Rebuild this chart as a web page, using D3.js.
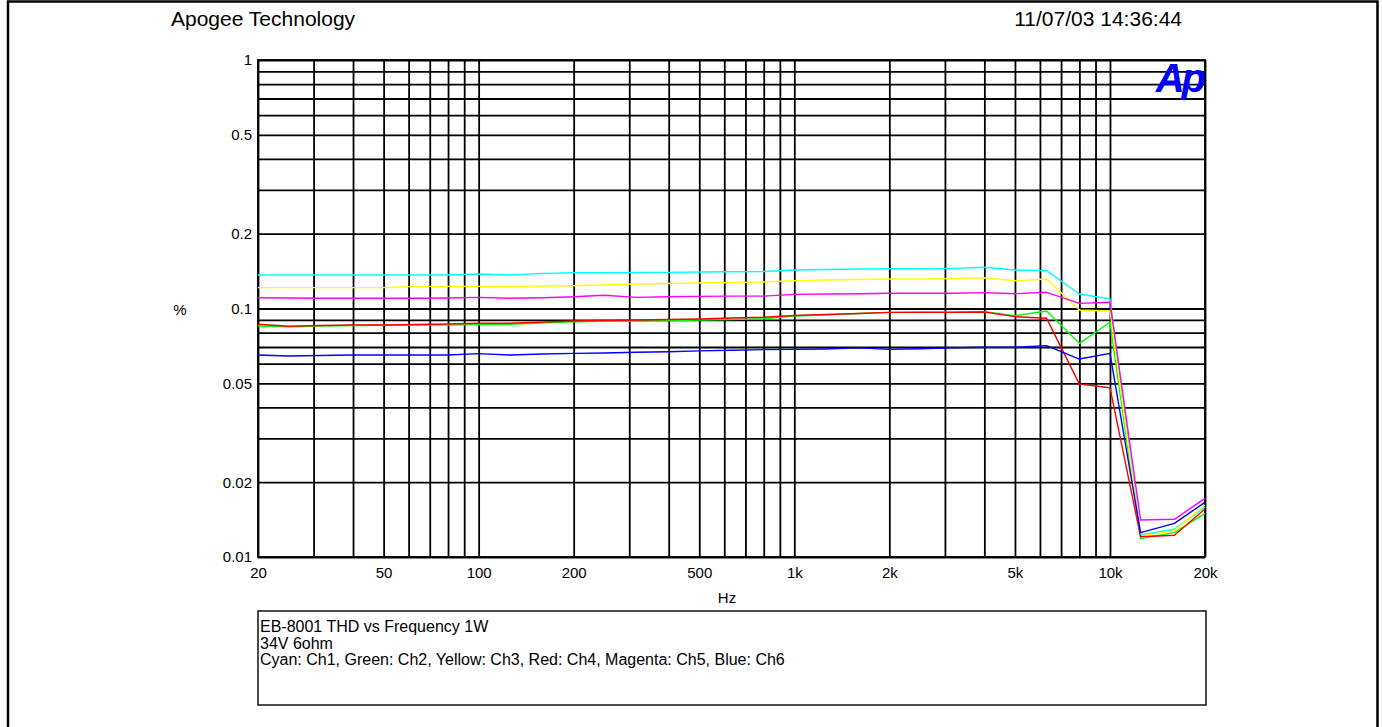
<!DOCTYPE html>
<html>
<head>
<meta charset="utf-8">
<script src="https://cdn.jsdelivr.net/npm/d3@7"></script>
<style>
  html, body { margin: 0; padding: 0; background: #fff; }
  svg { display: block; font-family: Arial, "Liberation Sans", sans-serif; }
</style>
</head>
<body>
<svg id="chart" width="1382" height="727"></svg>
<script>
// ---- data ----
const freqs = [20, 25, 31.5, 40, 50, 63, 80, 100, 125, 160, 200, 250, 315, 400, 500, 630, 800,
  1000, 1250, 1600, 2000, 2500, 3150, 4000, 5000, 6300, 8000, 10000, 12500, 16000, 20000];

const ch1Cyan = [0.1364, 0.1364, 0.1364, 0.1364, 0.1364, 0.1364, 0.1364, 0.1376, 0.1364, 0.1385, 0.1393,
  0.1393, 0.1396, 0.1398, 0.1402, 0.1406, 0.1409, 0.1429, 0.1435, 0.1442, 0.1446, 0.1446, 0.1451, 0.1465,
  0.1429, 0.1420, 0.1144, 0.1092, 0.01226, 0.01293, 0.01590];
const ch2Green = [0.0850, 0.0845, 0.0850, 0.0854, 0.0856, 0.0858, 0.0858, 0.0861, 0.0864, 0.0874, 0.0885,
  0.0888, 0.0891, 0.0893, 0.0899, 0.0903, 0.0910, 0.0933, 0.0942, 0.0955, 0.0965, 0.0968, 0.0968, 0.0971,
  0.0936, 0.0977, 0.0724, 0.0880, 0.01185, 0.01253, 0.01499];
const ch3Yellow = [0.1213, 0.1213, 0.1213, 0.1213, 0.1213, 0.1228, 0.1228, 0.1228, 0.1228, 0.1232, 0.1235,
  0.1243, 0.1255, 0.1260, 0.1266, 0.1272, 0.1278, 0.1294, 0.1302, 0.1308, 0.1314, 0.1314, 0.1320, 0.1330,
  0.1294, 0.1314, 0.0986, 0.0977, 0.01215, 0.01276, 0.01619];
const ch4Red = [0.0864, 0.0848, 0.0854, 0.0858, 0.0858, 0.0862, 0.0866, 0.0872, 0.0872, 0.0882, 0.0891,
  0.0895, 0.0899, 0.0903, 0.0907, 0.0916, 0.0922, 0.0937, 0.0946, 0.0955, 0.0965, 0.0965, 0.0965, 0.0968,
  0.0927, 0.0913, 0.0496, 0.0480, 0.01207, 0.01223, 0.01560];
const ch5Magenta = [0.1105, 0.1102, 0.1099, 0.1099, 0.1099, 0.1099, 0.1102, 0.1109, 0.1099, 0.1105, 0.1115,
  0.1130, 0.1109, 0.1115, 0.1119, 0.1122, 0.1122, 0.1140, 0.1144, 0.1147, 0.1151, 0.1151, 0.1151, 0.1158,
  0.1147, 0.1162, 0.1049, 0.1059, 0.01409, 0.01418, 0.01722];
const ch6Blue = [0.0650, 0.0644, 0.0647, 0.0650, 0.0650, 0.0650, 0.0650, 0.0658, 0.0650, 0.0656, 0.0660,
  0.0662, 0.0667, 0.0670, 0.0675, 0.0679, 0.0683, 0.0685, 0.0687, 0.0694, 0.0685, 0.0689, 0.0694, 0.0698,
  0.0698, 0.0709, 0.0626, 0.0660, 0.01253, 0.01366, 0.01660];

const seriesNames = ["Ch1", "Ch2", "Ch3", "Ch4", "Ch5", "Ch6"];
const seriesColors = ["#00ffff", "#00ff00", "#ffff00", "#ff0000", "#ff00ff", "#0000ff"];
const seriesValues = [ch1Cyan, ch2Green, ch3Yellow, ch4Red, ch5Magenta, ch6Blue];

const xTickValues = [20, 50, 100, 200, 500, 1000, 2000, 5000, 10000, 20000];
const xTickLabels = ["20", "50", "100", "200", "500", "1k", "2k", "5k", "10k", "20k"];
const yTickValues = [1, 0.5, 0.2, 0.1, 0.05, 0.02, 0.01];
const yTickLabels = ["1", "0.5", "0.2", "0.1", "0.05", "0.02", "0.01"];

const titleLeft = "Apogee Technology";
const titleRight = "11/07/03 14:36:44";
const xAxisTitle = "Hz";
const yAxisTitle = "%";
const legendLines = ["EB-8001 THD vs Frequency 1W", "34V 6ohm",
  "Cyan: Ch1, Green: Ch2, Yellow: Ch3, Red: Ch4, Magenta: Ch5, Blue: Ch6"];

// ---- layout ----
const svg = d3.select("#chart");
const L = 258, R = 1205, T = 60, B = 557;

const x = d3.scaleLog().domain([20, 20000]).range([L, R]);
const y = d3.scaleLog().domain([0.01, 1]).range([B, T]);

// outer frame (open at bottom)
svg.append("path")
  .attr("d", `M8,727 V1.5 H1377.5 V727`)
  .attr("fill", "none").attr("stroke", "#000").attr("stroke-width", 2.5);

// header texts
svg.append("text").attr("x", 171).attr("y", 26).attr("font-size", 21)
  .attr("fill", "#000").text(titleLeft);
svg.append("text").attr("x", 1182).attr("y", 26).attr("font-size", 21)
  .attr("text-anchor", "end").attr("fill", "#000").text(titleRight);

// grid values
const xGrid = [];
for (let d = 10; d <= 10000; d *= 10) for (let m = 1; m <= 9; m++) {
  const v = m * d; if (v >= 20 && v <= 20000) xGrid.push(v);
}
const yGrid = [];
for (let d = 0.01; d <= 0.1 + 1e-9; d *= 10) for (let m = 1; m <= 9; m++) yGrid.push(m * d);
yGrid.push(1);

const gridG = svg.append("g");
gridG.append("g").attr("transform", `translate(0,${B})`)
  .call(d3.axisBottom(x).tickValues(xGrid).tickSize(-(B - T)).tickFormat(""))
  .call(g => g.select(".domain").remove())
  .call(g => g.selectAll("line").attr("stroke", "#000").attr("stroke-width", 1.8));
gridG.append("g").attr("transform", `translate(${L},0)`)
  .call(d3.axisLeft(y).tickValues(yGrid).tickSize(-(R - L)).tickFormat(""))
  .call(g => g.select(".domain").remove())
  .call(g => g.selectAll("line").attr("stroke", "#000").attr("stroke-width", 1.8));

// plot border
svg.append("rect").attr("x", L).attr("y", T).attr("width", R - L).attr("height", B - T)
  .attr("fill", "none").attr("stroke", "#000").attr("stroke-width", 1.8);

// tick labels via axes
svg.append("g").attr("transform", `translate(0,${B})`)
  .call(d3.axisBottom(x).tickValues(xTickValues).tickSize(0).tickPadding(10)
    .tickFormat((d, i) => xTickLabels[i]))
  .call(g => g.select(".domain").remove())
  .call(g => g.selectAll("text").attr("font-size", 15).attr("fill", "#000")
    .attr("font-family", "Arial, 'Liberation Sans', sans-serif"));
svg.append("g").attr("transform", `translate(${L},0)`)
  .call(d3.axisLeft(y).tickValues(yTickValues).tickSize(0).tickPadding(6)
    .tickFormat((d, i) => yTickLabels[i]))
  .call(g => g.select(".domain").remove())
  .call(g => g.selectAll("text").attr("font-size", 15).attr("fill", "#000")
    .attr("font-family", "Arial, 'Liberation Sans', sans-serif"));

// axis titles
svg.append("text").attr("x", 727).attr("y", 603).attr("font-size", 15)
  .attr("text-anchor", "middle").text(xAxisTitle);
svg.append("text").attr("x", 180).attr("y", y(0.1) + 6).attr("font-size", 15)
  .attr("text-anchor", "middle").text(yAxisTitle);

// data lines
const line = d3.line().x((d, i) => x(freqs[i])).y(d => y(d));
seriesValues.forEach((vals, k) => {
  svg.append("path").datum(vals)
    .attr("d", line)
    .attr("fill", "none")
    .attr("stroke", seriesColors[k])
    .attr("stroke-width", 1.4)
    .attr("stroke-linejoin", "round");
});

// Ap logo
svg.append("text").attr("x", 1203).attr("y", 92)
  .attr("text-anchor", "end")
  .attr("font-size", 40).attr("font-weight", "bold").attr("font-style", "italic")
  .attr("letter-spacing", -3)
  .attr("fill", "#0000ff").text("Ap");

// legend box
svg.append("rect").attr("x", L).attr("y", 611).attr("width", R - L + 1).attr("height", 94)
  .attr("fill", "none").attr("stroke", "#000").attr("stroke-width", 1.4);
legendLines.forEach((t, i) => {
  svg.append("text").attr("x", 260).attr("y", 632 + i * 16.5)
    .attr("font-size", 16).attr("fill", "#000").text(t);
});
</script>
</body>
</html>
